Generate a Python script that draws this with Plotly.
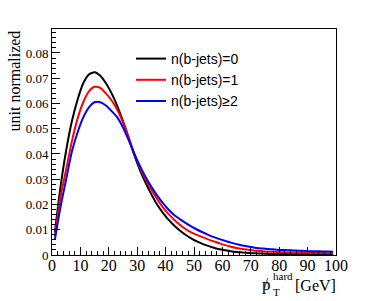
import plotly.graph_objects as go

# bin centres (2 GeV bins)
pt_hard = list(range(1, 100, 2))

nb0 = [0.0090, 0.0270, 0.0415, 0.0530, 0.0615, 0.0680, 0.0715, 0.0724, 0.0710, 0.0680,
       0.0640, 0.0590, 0.0530, 0.0465, 0.0395, 0.0335, 0.0285, 0.0240, 0.0200, 0.0168,
       0.0140, 0.0117, 0.0097, 0.0080, 0.0066, 0.0054, 0.0044, 0.0036, 0.0029, 0.0023,
       0.0019, 0.0015, 0.0012, 0.0010, 0.0008, 0.0007, 0.0006, 0.0005, 0.0004, 0.0004,
       0.0004, 0.0004, 0.0003, 0.0003, 0.0003, 0.0003, 0.0003, 0.0003, 0.0003, 0.0003]

nb1 = [0.0075, 0.0230, 0.0340, 0.0450, 0.0540, 0.0605, 0.0648, 0.0666, 0.0662, 0.0640,
       0.0612, 0.0575, 0.0525, 0.0465, 0.0400, 0.0345, 0.0298, 0.0258, 0.0222, 0.0190,
       0.0163, 0.0140, 0.0120, 0.0103, 0.0090, 0.0080, 0.0071, 0.0062, 0.0054, 0.0046,
       0.0039, 0.0033, 0.0028, 0.0024, 0.0021, 0.0018, 0.0016, 0.0014, 0.0013, 0.0012,
       0.0011, 0.0010, 0.0010, 0.0009, 0.0009, 0.0008, 0.0008, 0.0008, 0.0007, 0.0007]

nb2 = [0.0060, 0.0190, 0.0300, 0.0410, 0.0485, 0.0545, 0.0585, 0.0605, 0.0605, 0.0592,
       0.0570, 0.0545, 0.0505, 0.0455, 0.0400, 0.0352, 0.0308, 0.0270, 0.0236, 0.0206,
       0.0180, 0.0158, 0.0142, 0.0127, 0.0113, 0.0101, 0.0090, 0.0080, 0.0071, 0.0063,
       0.0056, 0.0049, 0.0043, 0.0038, 0.0034, 0.0030, 0.0027, 0.0025, 0.0023, 0.0021,
       0.0020, 0.0019, 0.0018, 0.0017, 0.0016, 0.0015, 0.0015, 0.0014, 0.0014, 0.0013]

series_names = ["n(b-jets)=0", "n(b-jets)=1", "n(b-jets)\u22652"]
series_colors = ["#000000", "#ff0000", "#0000ff"]

x_tickvals = [0, 10, 20, 30, 40, 50, 60, 70, 80, 90, 100]
x_ticktext = ["0", "10", "20", "30", "40", "50", "60", "70", "80", "90", "100"]
y_tickvals = [0, 0.01, 0.02, 0.03, 0.04, 0.05, 0.06, 0.07, 0.08]
y_ticktext = ["0", "0.01", "0.02", "0.03", "0.04", "0.05", "0.06", "0.07", "0.08"]

fig = go.Figure()
for name, ys, col in zip(series_names, [nb0, nb1, nb2], series_colors):
    fig.add_trace(go.Scatter(x=pt_hard, y=ys, mode="lines", name=name,
                             line=dict(color=col, width=2, shape="spline", smoothing=0.6)))

serif = "Liberation Serif"
L, R, T, B = 52, 336, 29, 255
PW, PH = R - L, B - T


def px(xp):
    return (xp - L) / PW


def py(yp):
    return (B - yp) / PH


fig.update_layout(
    width=374, height=301,
    margin=dict(l=L, r=374 - R, t=T, b=301 - B, autoexpand=False),
    paper_bgcolor="white", plot_bgcolor="white",
    showlegend=True,
    legend=dict(x=px(131), y=py(43), xanchor="left", yanchor="top",
                bgcolor="rgba(0,0,0,0)", borderwidth=0,
                font=dict(family="Liberation Sans", size=14, color="black"),
                itemwidth=30, tracegroupgap=0),
    xaxis=dict(range=[0, 100], showgrid=False, zeroline=False, automargin=False,
               showline=True, linecolor="black", linewidth=1, mirror=True,
               ticks="inside", ticklen=8, tickcolor="black", tickwidth=1,
               tickvals=x_tickvals, ticktext=x_ticktext, ticklabelstandoff=-4,
               tickfont=dict(family=serif, size=16, color="black"),
               minor=dict(ticks="inside", ticklen=4, dtick=2, tickcolor="black", showgrid=False)),
    yaxis=dict(range=[0, 0.0895], showgrid=False, zeroline=False, automargin=False,
               showline=True, linecolor="black", linewidth=1, mirror=True,
               ticks="inside", ticklen=8, tickcolor="black", tickwidth=1,
               tickvals=y_tickvals, ticktext=y_ticktext,
               tickfont=dict(family=serif, size=13, color="black"),
               minor=dict(ticks="inside", ticklen=4, dtick=0.002, tickcolor="black", showgrid=False)),
)

# y axis title
fig.add_annotation(text="unit normalized", xref="paper", yref="paper",
                   x=px(14), y=1.0, xanchor="center", yanchor="top",
                   textangle=-90, showarrow=False,
                   font=dict(family=serif, size=16, color="black"))
# x axis title pieces (slashed p, subscript T, superscript hard, unit)
fig.add_annotation(text="p", xref="paper", yref="paper",
                   x=px(266), y=py(284), xanchor="center", yanchor="middle",
                   showarrow=False, font=dict(family=serif, size=17, color="black"))
fig.add_annotation(text="/", xref="paper", yref="paper",
                   x=px(266), y=py(283), xanchor="center", yanchor="middle",
                   showarrow=False, font=dict(family=serif, size=15, color="black"))
fig.add_annotation(text="T", xref="paper", yref="paper",
                   x=px(271), y=py(292), xanchor="left", yanchor="middle",
                   showarrow=False, font=dict(family=serif, size=11, color="black"))
fig.add_annotation(text="hard", xref="paper", yref="paper",
                   x=px(271), y=py(276), xanchor="left", yanchor="middle",
                   showarrow=False, font=dict(family=serif, size=11, color="black"))
fig.add_annotation(text="[GeV]", xref="paper", yref="paper",
                   x=px(338), y=py(285), xanchor="right", yanchor="middle",
                   showarrow=False, font=dict(family=serif, size=16, color="black"))

fig.write_html("out.html", config={"displayModeBar": False},
               post_script="document.body.style.margin='0';document.body.style.padding='0';")
